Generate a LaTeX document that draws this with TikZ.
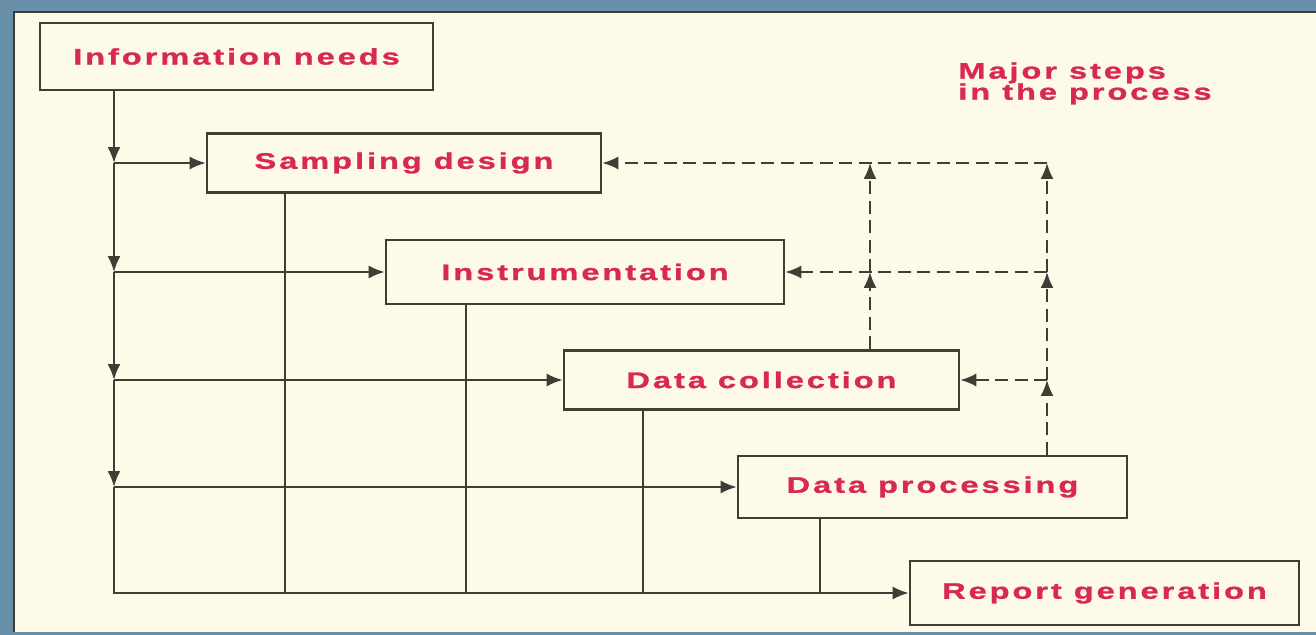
\documentclass[tikz,border=0pt]{standalone}
\usepackage{fontspec}
\newfontfamily\stagefont{Liberation Sans}[FakeStretch=1.45,LetterSpace=13,FakeBold=1.2]
\usetikzlibrary{arrows.meta}
\definecolor{paper}{RGB}{253,250,232}
\definecolor{backing}{RGB}{104,144,168}
\definecolor{ink}{RGB}{62,62,54}
\definecolor{stagered}{RGB}{216,40,86}
\tikzstyle{stage box} = [draw=ink,line width=1.5pt,fill=paper,inner sep=0,text=stagered]
\tikzstyle{link} = [draw=ink,line width=1.2pt]
\tikzstyle{flow} = [link,-{Latex[length=3.2mm,width=2.6mm]}]
\tikzstyle{back} = [flow,dash pattern=on 2.6mm off 1.3mm]

\begin{document}
\begin{tikzpicture}[x=0.02cm, y=-0.02cm,
                    font=\stagefont\bfseries\fontsize{12.8}{12}\selectfont
                    ]
    \useasboundingbox (0,0) rectangle (1316,635);
    \fill[backing] (0,0) rectangle (1316,635);
    \fill[paper] (14,12) rectangle (1316,632);
    \draw[ink,line width=1pt] (14,632) -- (14,12) -- (1316,12);

    % the six steps
    \node[stage box, minimum width=7.86cm, minimum height=1.34cm] (info)   at (236.5,56.5) {Information needs};
    \node[stage box, minimum width=7.88cm, minimum height=1.18cm] (samp)   at (404,163)    {Sampling design};
    \node[stage box, minimum width=7.96cm, minimum height=1.28cm] (instr)  at (585,272)    {Instrumentation};
    \node[stage box, minimum width=7.90cm, minimum height=1.18cm] (coll)   at (761.5,380)  {Data collection};
    \node[stage box, minimum width=7.78cm, minimum height=1.24cm] (proc)   at (932.5,487)  {Data processing};
    \node[stage box, minimum width=7.78cm, minimum height=1.28cm] (report) at (1104.5,593) {Report generation};

    \node[anchor=north west, align=left, text=stagered, inner sep=0] (caption) at (958,62) {Major steps\\in the process};

    % spine on the left
    \coordinate (spine) at (114,0);
    \draw[flow] (spine |- info.south) -- (spine |- samp.west);
    \foreach \a/\b in {samp/instr, instr/coll, coll/proc}
        \draw[flow] (spine |- \a.west) -- (spine |- \b.west);
    \foreach \n in {samp, instr, coll, proc}
        \draw[flow] (spine |- \n.west) -- (\n.west);
    \draw[flow] (spine |- proc.west) -- (spine |- report.west) -- (report.west);

    % drops into the bottom line
    \foreach \n/\x in {samp/285, instr/466, coll/643, proc/820}{
        \coordinate (drop-\n) at (\x,0);
        \draw[link] (drop-\n |- \n.south) -- (drop-\n |- report.west);
    }

    % feedback
    \coordinate (fb1) at (870,0);
    \coordinate (fb2) at (1047,0);
    \draw[back] (fb1 |- coll.north) -- (fb1 |- instr.east);
    \draw[back] (fb1 |- instr.east) -- (fb1 |- samp.east);
    \draw[back] (fb2 |- proc.north) -- (fb2 |- coll.east);
    \draw[back] (fb2 |- coll.east) -- (fb2 |- instr.east);
    \draw[back] (fb2 |- instr.east) -- (fb2 |- samp.east);
    \foreach \n in {samp, instr, coll}
        \draw[back] (fb2 |- \n.east) -- (\n.east);

\end{tikzpicture}
\end{document}
